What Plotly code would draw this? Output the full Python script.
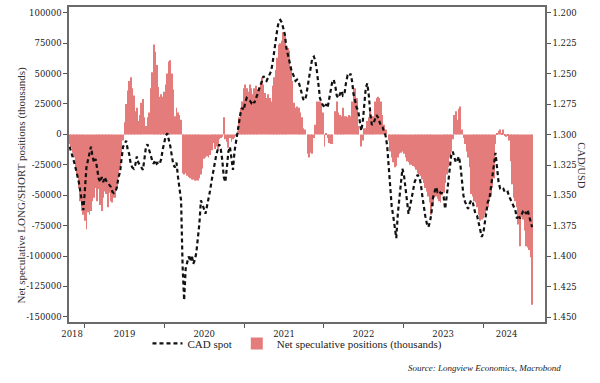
import pandas as pd
import plotly.graph_objects as go

# ---- data (weekly) ----
start_date = "2018-10-23"
n_weeks = 304

# Net speculative positions, thousands of contracts
net_a = [-8, -11, -15, -19, -27, -33, -44, -55, -63, -66, -71, -78, -64, -66, -63, -55, -52, -44, -55, -45,
         -58, -63, -52, -47, -49, -60, -48, -55, -56, -52, -52, -44, -36, -27, -16, -5]
net_b = [10, 25, 36, 44, 47, 38, 32, 19, 22, 11, 16, 26, 29, 14, 7, 14, 18, 38, 51, 74,
         68, 57, 39, 31, 33, 31, 35, 41, 50, 60, 61, 50, 37, 15, 22, 18, 16, 12]
net_c = [-32, -33, -32, -34, -35, -36, -37, -37, -38, -38, -38, -36, -33, -28, -20, -19, -18, -19, -17, -13,
         -7, -12, -10, -12, -4, -3, -2, 14, -4, -6, -11, -3, -6, -4, -3, -1, 3,
         14, 22, 27, 38, 41, 38, 35, 41, 38, 33]
net_d = [38, 40, 37, 38, 42, 47, 41, 34, 30, 33, 30, 27, 40, 47, 53, 63, 74, 75, 77, 84,
         81, 73, 71, 69, 56, 44, 26, 22, 23, 22, 18, 14, 5, 4, 0, -16, -19, -15, -16, -3,
         8, 27, 27, 27, 26, 18, -10, 1, -3, -7, -8, -8, 0, 19, 27, 18, 16, 15, 22, 15, 15, 14]
net_e = [16, 15, 27, 40, 38, 30, 7, 0, -10, -5, 5, 5, 11, 14, 19, 15, 15, 27, 30, 31, 30, 27, 16, 8, 4, 0, -5]
net_f = [-14, -19, -23, -27, -26, -19, -16, -15, -14, -16, -19, -22, -23, -25, -25, -26, -27, -29, -32, -33,
         -34, -37, -40, -44, -47, -51, -56, -66, -59, -52, -51, -53, -55, -56]
net_g = [-50, -48, -40, -33, -27, -19, -14, -4, 16, 19, 12, 21, 23, 4, -3, -8, -14, -19, -27,
         -49, -51, -55, -56, -60, -66, -71, -70, -69, -66, -62, -60, -55, -51, -44, -36, -8,
         1, 3, 4, 1, 4, -1, -2, -1, -5,
         -22, -41, -52, -55, -60, -74, -92, -68, -70, -79, -92, -93, -95, -101, -140]
net_positions_k = net_a + net_b + net_c + net_d + net_e + net_f + net_g

# USD/CAD spot (right axis, inverted)
cad_a = [1.310, 1.314, 1.317, 1.323, 1.328, 1.333, 1.339, 1.347, 1.355, 1.362, 1.345, 1.327, 1.321, 1.314, 1.310,
         1.318, 1.323, 1.320, 1.328, 1.336, 1.339, 1.335, 1.339, 1.335, 1.338, 1.340, 1.342, 1.343, 1.347, 1.348,
         1.347, 1.343, 1.335, 1.331, 1.320, 1.310, 1.308, 1.305, 1.312, 1.316, 1.324, 1.327, 1.328, 1.325, 1.318,
         1.323, 1.325, 1.327, 1.329, 1.320, 1.310, 1.308, 1.313, 1.317, 1.321, 1.324, 1.321, 1.324, 1.323]
cad_b = [1.324, 1.320, 1.312, 1.305, 1.301, 1.299, 1.304, 1.310, 1.318, 1.325, 1.327, 1.323, 1.335, 1.343, 1.354,
         1.408, 1.436, 1.410, 1.404, 1.400, 1.404, 1.399, 1.406, 1.403, 1.397, 1.386, 1.373, 1.354, 1.357, 1.361,
         1.365, 1.359, 1.355, 1.346, 1.338, 1.329, 1.324, 1.317, 1.313, 1.308, 1.312, 1.321, 1.335, 1.339, 1.327,
         1.314, 1.310, 1.318, 1.329, 1.314, 1.306, 1.300, 1.290, 1.282, 1.278, 1.280, 1.274, 1.270, 1.271, 1.272,
         1.274]
cad_c = [1.272, 1.274, 1.271, 1.267, 1.263, 1.260, 1.256, 1.252, 1.255, 1.256, 1.253, 1.250, 1.248, 1.241, 1.231,
         1.222, 1.214, 1.207, 1.206, 1.208, 1.212, 1.218, 1.229, 1.236, 1.240, 1.246, 1.250, 1.253, 1.256, 1.255,
         1.257, 1.261, 1.267, 1.271, 1.272, 1.268, 1.260, 1.252, 1.244, 1.237, 1.236, 1.240, 1.248, 1.259, 1.270,
         1.274, 1.276, 1.278, 1.275, 1.278, 1.271, 1.264, 1.257, 1.255, 1.260, 1.268, 1.270, 1.267, 1.264, 1.268,
         1.267, 1.258, 1.252]
cad_d = [1.253, 1.250, 1.256, 1.267, 1.272, 1.278, 1.280, 1.290, 1.297, 1.290, 1.276, 1.262, 1.258, 1.268, 1.283,
         1.292, 1.291, 1.287, 1.284, 1.286, 1.290, 1.293, 1.294, 1.297, 1.301, 1.309, 1.327, 1.343, 1.359, 1.367,
         1.378, 1.385, 1.365, 1.351, 1.336, 1.328, 1.333, 1.344, 1.354, 1.365, 1.359, 1.351, 1.346, 1.339, 1.335,
         1.333, 1.335, 1.340, 1.350, 1.361, 1.367, 1.373, 1.376, 1.372, 1.365, 1.352, 1.346, 1.343, 1.347, 1.346,
         1.348]
cad_e = [1.348, 1.351, 1.361, 1.351, 1.339, 1.324, 1.317, 1.314, 1.318, 1.323, 1.321, 1.318, 1.325, 1.338, 1.350,
         1.355, 1.358, 1.361, 1.357, 1.354, 1.355, 1.361, 1.366, 1.367, 1.372, 1.378, 1.384, 1.381, 1.373, 1.365,
         1.355, 1.353, 1.344, 1.333, 1.323, 1.315, 1.327, 1.339, 1.344, 1.343, 1.344, 1.347, 1.348, 1.347, 1.351,
         1.354, 1.357, 1.359, 1.362, 1.369, 1.366, 1.369, 1.366, 1.363, 1.362, 1.365, 1.362, 1.366, 1.370, 1.376]
cad_spot = cad_a + cad_b + cad_c + cad_d + cad_e

dates = pd.date_range(start_date, periods=n_weeks, freq="7D")

left_ticks = [100000, 75000, 50000, 25000, 0, -25000, -50000, -75000, -100000, -125000, -150000]
left_ticktext = ["100000", "75000", "50000", "25000", "0", "-25000", "-50000", "-75000",
                 "-100000", "-125000", "-150000"]
right_ticks = [1.200, 1.225, 1.250, 1.275, 1.300, 1.325, 1.350, 1.375, 1.400, 1.425, 1.450]
year_labels = ["2018", "2019", "2020", "2021", "2022", "2023", "2024"]
year_label_pos = ["2018-11-03", "2019-07-02", "2020-07-01", "2021-07-02", "2022-07-02", "2023-07-02", "2024-04-18"]
year_starts = ["2019-01-01", "2020-01-01", "2021-01-01", "2022-01-01", "2023-01-01", "2024-01-01"]

assert len(net_positions_k) == n_weeks and len(cad_spot) == n_weeks

SERIF = "DejaVu Serif"
TXT = "Liberation Serif"
AX = "#6a6a6a"

fig = go.Figure()
fig.add_trace(go.Bar(
    x=dates, y=[v * 1000 for v in net_positions_k],
    name="Net speculative positions (thousands)",
    marker=dict(color="#E47C7C", line=dict(width=0)),
    yaxis="y", legendrank=2,
))
fig.add_trace(go.Scatter(
    x=dates, y=cad_spot, name="CAD spot", mode="lines",
    line=dict(color="#111111", width=2.2, dash="4px,3px"),
    yaxis="y2", legendrank=1,
))

fig.update_layout(
    width=600, height=383,
    margin=dict(l=69, r=55, t=5, b=61),
    paper_bgcolor="white", plot_bgcolor="white",
    bargap=0.42,
    showlegend=True,
    legend=dict(orientation="h", x=0.48, xanchor="center", y=-0.068, yanchor="middle",
                font=dict(family=TXT, size=11, color="#222"), itemwidth=30,
                bgcolor="rgba(0,0,0,0)"),
    xaxis=dict(
        type="date", range=["2018-10-20", "2024-10-11"],
        showline=True, linecolor=AX, linewidth=1.5, mirror=True,
        showgrid=False, zeroline=False,
        tickmode="array", tickvals=year_label_pos, ticktext=year_labels, ticks="",
        ticklabelstandoff=3,
        tickfont=dict(family=SERIF, size=8.5, color="#222"),
        minor=dict(tickmode="array", tickvals=year_starts, ticks="outside", ticklen=4,
                   tickcolor="#555", tickwidth=1, showgrid=False),
    ),
    yaxis=dict(
        range=[-154250, 104740], tickmode="array", tickvals=left_ticks, ticktext=left_ticktext,
        ticks="outside", ticklen=4, tickcolor="#555",
        showline=True, linecolor=AX, linewidth=1.5,
        showgrid=False, zeroline=False,
        tickfont=dict(family=SERIF, size=8.5, color="#222"),
    ),
    yaxis2=dict(
        overlaying="y", side="right", range=[1.45383, 1.19535],
        tickmode="array", tickvals=right_ticks, tickformat=".3f",
        ticks="outside", ticklen=4, tickcolor="#555",
        showline=True, linecolor=AX, linewidth=1.5,
        showgrid=False, zeroline=False,
        tickfont=dict(family=SERIF, size=8.5, color="#222"),
    ),
    annotations=[
        dict(text="Net speculative LONG/SHORT positions (thousands)", xref="paper", yref="paper",
             x=-0.1176, y=0.435, textangle=-90, showarrow=False,
             font=dict(family=TXT, size=11, color="#333")),
        dict(text="CAD/USD", xref="paper", yref="paper", x=1.093, y=0.495, textangle=90,
             showarrow=False, font=dict(family=TXT, size=10.5, color="#333")),
        dict(text="<i>Source: Longview Economics, Macrobond</i>", xref="paper", yref="paper",
             x=1.0378, y=-0.145, xanchor="right", yanchor="middle", showarrow=False,
             font=dict(family=TXT, size=9, color="#222")),
    ],
)

fig.write_html("out.html", config={"displayModeBar": False},
               post_script="document.body.style.margin='0';")
